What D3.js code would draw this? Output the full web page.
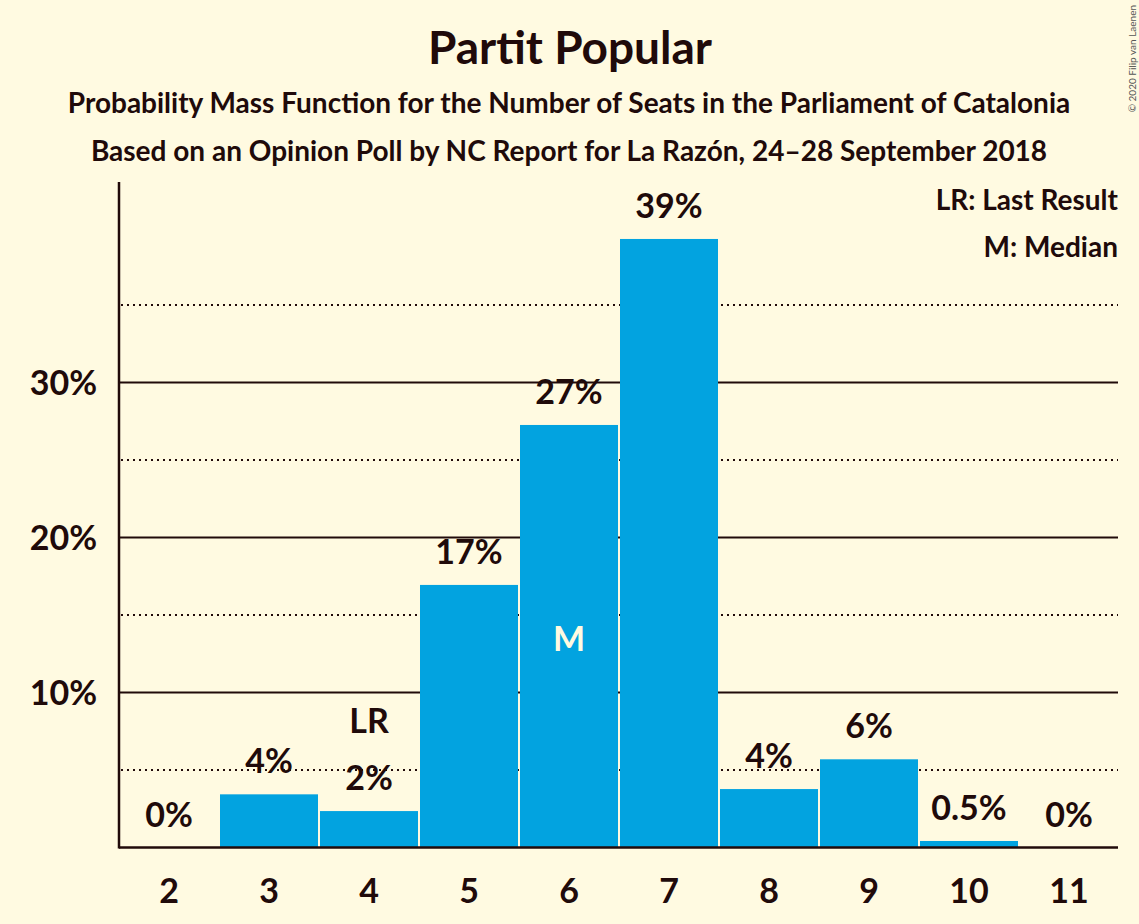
<html>
<head>
    <title>Partit Popular</title>
    <script src="https://d3js.org/d3.v7.min.js"></script>
    <style>
        body { margin: 0; background: #FFFAE1; }
        text { font-family: Lato, "Open Sans", sans-serif; font-weight: bold; fill: #200A0A; }
    </style>
</head>
<body>
<script>

// chart values
var seats = [2, 3, 4, 5, 6, 7, 8, 9, 10, 11];
var probs = [0, 3.43, 2.35, 16.94, 27.26, 39.26, 3.77, 5.69, 0.42, 0];
var barLabels = ["0%", "4%", "2%", "17%", "27%", "39%", "4%", "6%", "0.5%", "0%"];
var solidTicks = [10, 20, 30];
var dottedTicks = [5, 15, 25, 35];
var lastResult = 4;
var median = 6;

var width = 1139;
var height = 924;
var ink = "#200A0A";

var svg = d3.select("body")
            .append("svg")
            .attr("width", width)
            .attr("height", height)
            .style("background", "#FFFAE1");

var x = d3.scaleBand()
          .domain(seats)
          .range([119, 1119])
          .paddingInner(0.02)
          .paddingOuter(0.01);

var y = d3.scaleLinear()
          .domain([0, 43])
          .range([847.5, 181]);

// titles
svg.append("text").text("Partit Popular")
   .attr("x", 570).attr("y", 64)
   .attr("text-anchor", "middle").style("font-size", "46px");
svg.append("text").text("Probability Mass Function for the Number of Seats in the Parliament of Catalonia")
   .attr("x", 569).attr("y", 113)
   .attr("text-anchor", "middle").style("font-size", "28px");
svg.append("text").text("Based on an Opinion Poll by NC Report for La Razón, 24–28 September 2018")
   .attr("x", 569).attr("y", 161)
   .attr("text-anchor", "middle").style("font-size", "28px");

// copyright
svg.append("text").text("© 2020 Filip van Laenen")
   .attr("transform", "translate(1136,5) rotate(-90)")
   .attr("text-anchor", "end")
   .style("font-size", "10px").style("font-weight", "normal").style("fill", "#555");

// grid lines
svg.selectAll(".solid")
   .data(solidTicks)
   .enter()
   .append("line")
   .attr("x1", 119).attr("x2", 1118)
   .attr("y1", function(d){ return y(d); })
   .attr("y2", function(d){ return y(d); })
   .attr("stroke", ink).attr("stroke-width", 2);

svg.selectAll(".dotted")
   .data(dottedTicks)
   .enter()
   .append("line")
   .attr("x1", 121).attr("x2", 1118)
   .attr("y1", function(d){ return y(d); })
   .attr("y2", function(d){ return y(d); })
   .attr("stroke", ink).attr("stroke-width", 2)
   .attr("stroke-dasharray", "2,4");

// y tick labels
svg.selectAll(".ytick")
   .data(solidTicks)
   .enter()
   .append("text")
   .text(function(d){ return d + "%"; })
   .attr("x", 97)
   .attr("y", function(d){ return y(d) + 12; })
   .attr("text-anchor", "end")
   .style("font-size", "34px");

// bars
svg.selectAll(".bar")
   .data(probs)
   .enter()
   .append("rect")
   .attr("x", function(d, i){ return x(seats[i]); })
   .attr("y", function(d){ return y(d); })
   .attr("width", x.bandwidth())
   .attr("height", function(d){ return y(0) - y(d); })
   .attr("fill", "#02A3E0");

// axes
svg.append("line")
   .attr("x1", 119).attr("x2", 1118)
   .attr("y1", y(0)).attr("y2", y(0))
   .attr("stroke", ink).attr("stroke-width", 2.5);
svg.append("line")
   .attr("x1", 119).attr("x2", 119)
   .attr("y1", 182).attr("y2", y(0) + 1)
   .attr("stroke", ink).attr("stroke-width", 2.5);

// x tick labels
svg.selectAll(".xtick")
   .data(seats)
   .enter()
   .append("text")
   .text(function(d){ return d; })
   .attr("x", function(d){ return x(d) + x.bandwidth() / 2; })
   .attr("y", 903)
   .attr("text-anchor", "middle")
   .style("font-size", "34px");

// value labels
svg.selectAll(".val")
   .data(probs)
   .enter()
   .append("text")
   .text(function(d, i){ return barLabels[i]; })
   .attr("x", function(d, i){ return x(seats[i]) + x.bandwidth() / 2; })
   .attr("y", function(d){ return y(d) - 21; })
   .attr("text-anchor", "middle")
   .style("font-size", "34px");

// last result marker
var lrIndex = seats.indexOf(lastResult);
svg.append("text").text("LR")
   .attr("x", x(lastResult) + x.bandwidth() / 2)
   .attr("y", y(probs[lrIndex]) - 78)
   .attr("text-anchor", "middle")
   .style("font-size", "34px");

// median marker
var mIndex = seats.indexOf(median);
svg.append("text").text("M")
   .attr("x", x(median) + x.bandwidth() / 2)
   .attr("y", (y(probs[mIndex]) + y(0)) / 2 + 15)
   .attr("text-anchor", "middle")
   .style("font-size", "34px")
   .style("fill", "#FFFAE1");

// legend
svg.append("text").text("LR: Last Result")
   .attr("x", 1118).attr("y", 210)
   .attr("text-anchor", "end").style("font-size", "28px");
svg.append("text").text("M: Median")
   .attr("x", 1118).attr("y", 257)
   .attr("text-anchor", "end").style("font-size", "28px");

</script>
</body>
</html>
